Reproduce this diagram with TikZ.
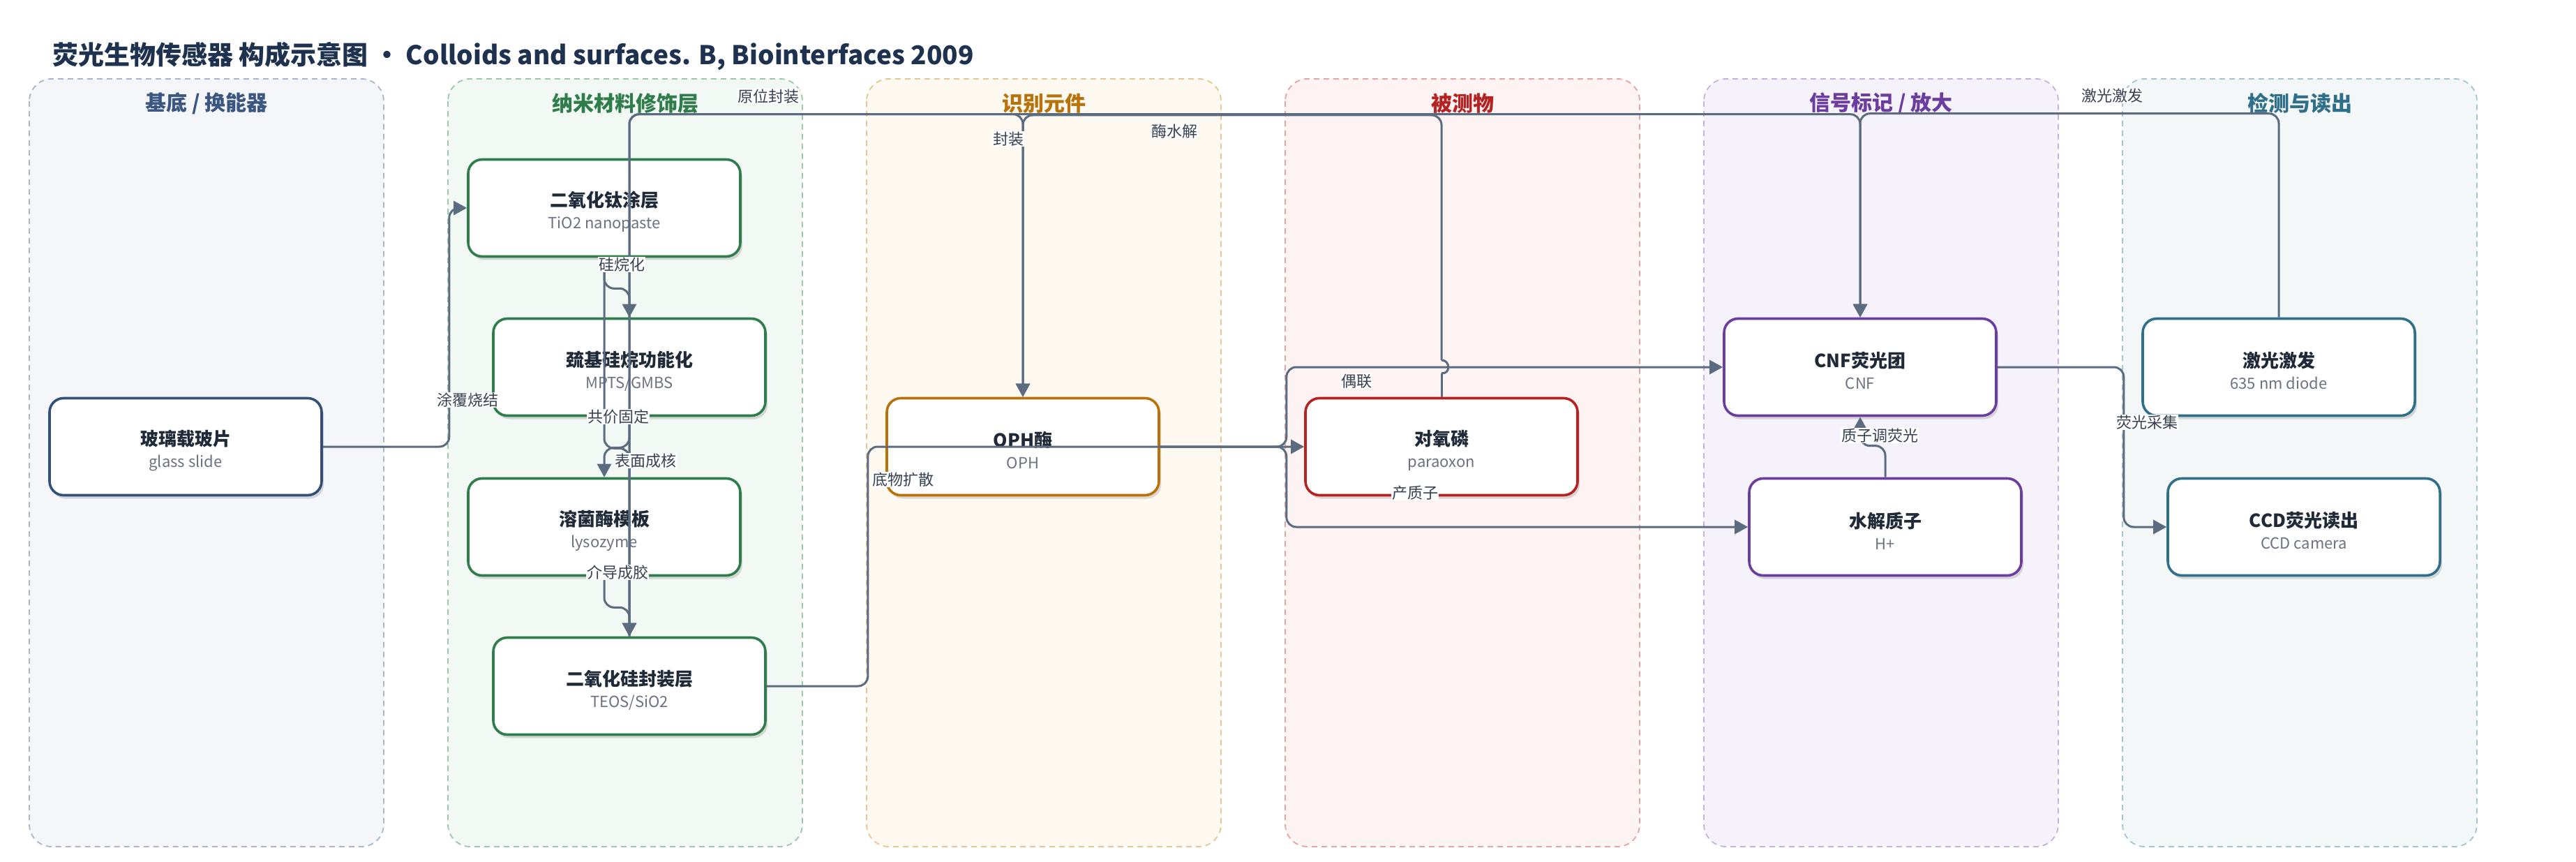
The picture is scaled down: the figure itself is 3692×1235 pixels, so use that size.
\documentclass[tikz,border=0pt]{standalone}
\usepackage{fontspec}
\setmainfont{Noto Sans CJK SC}
\usetikzlibrary{positioning,arrows.meta,shadows}

\definecolor{ink}{HTML}{1F2937}
\definecolor{subc}{HTML}{6B7280}
\definecolor{titlec}{HTML}{1E3250}
\definecolor{wire}{HTML}{5B6B80}
\definecolor{lbc}{HTML}{374151}
\definecolor{bgA}{HTML}{F4F6FA}\definecolor{bdA}{HTML}{A9B5CA}\definecolor{tA}{HTML}{3B5680}
\definecolor{bgB}{HTML}{F2F8F4}\definecolor{bdB}{HTML}{9CC8AA}\definecolor{tB}{HTML}{2E7D4A}
\definecolor{bgC}{HTML}{FDF8F0}\definecolor{bdC}{HTML}{E8C690}\definecolor{tC}{HTML}{B8720A}
\definecolor{bgD}{HTML}{FDF3F3}\definecolor{bdD}{HTML}{E6A3A3}\definecolor{tD}{HTML}{B52222}
\definecolor{bgE}{HTML}{F6F2FB}\definecolor{bdE}{HTML}{C6B0E0}\definecolor{tE}{HTML}{6A3D9E}
\definecolor{bgF}{HTML}{F3F7F8}\definecolor{bdF}{HTML}{A6C4D0}\definecolor{tF}{HTML}{2F6F8A}
\definecolor{nA}{HTML}{34507A}

\tikzset{
  lane/.style={draw=#1, dash pattern=on 4pt off 3pt, line width=0.9pt, rounded corners=16pt},
  lanetitle/.style={font=\bfseries\fontsize{15}{18}\selectfont, text=#1},
  box/.style={draw=#1, fill=white, line width=1.8pt, rounded corners=10pt,
    minimum width=195pt, minimum height=69.5pt, align=center, inner sep=0pt,
    font=\fontsize{13}{15.5}\selectfont, text=ink,
    drop shadow={shadow xshift=1.5pt, shadow yshift=-2.5pt, opacity=0.13, fill=black}},
  conn/.style={draw=wire, line width=1.5pt, rounded corners=7pt},
  arr/.style={conn, -{Triangle[length=9.5pt,width=10pt]}},
  lbl/.style={fill=white, inner sep=0.6pt, text=lbc, font=\fontsize{11}{13}\selectfont},
}
\newcommand{\boxtext}[2]{\rule{0pt}{16.5pt}{\bfseries #1}\\{\fontsize{11}{15.5}\selectfont\color{subc}#2}}

\begin{document}
\begin{tikzpicture}[x=0.5pt, y=-0.5pt]
\useasboundingbox (0,0) rectangle (3692,1235);
\fill[white] (0,0) rectangle (3692,1235);

\node[anchor=west, inner sep=0pt, text=titlec, font=\bfseries\fontsize{18.5}{22}\selectfont] (title) at (75,81)
  {荧光生物传感器 构成示意图 · Colloids and surfaces. B, Biointerfaces 2009};

% lanes
\draw[lane=bdA, fill=bgA] (42,113) rectangle ++(508,1100);
\draw[lane=bdB, fill=bgB] (642,113) rectangle ++(508,1100);
\draw[lane=bdC, fill=bgC] (1242,113) rectangle ++(508,1100);
\draw[lane=bdD, fill=bgD] (1842,113) rectangle ++(508,1100);
\draw[lane=bdE, fill=bgE] (2442,113) rectangle ++(508,1100);
\draw[lane=bdF, fill=bgF] (3042,113) rectangle ++(508,1100);
\node[lanetitle=tA] (laneA) at (296,148) {基底 / 换能器};
\node[lanetitle=tB] (laneB) at (896,148) {纳米材料修饰层};
\node[lanetitle=tC] (laneC) at (1496,148) {识别元件};
\node[lanetitle=tD] (laneD) at (2096,148) {被测物};
\node[lanetitle=tE] (laneE) at (2696,148) {信号标记 / 放大};
\node[lanetitle=tF] (laneF) at (3296,148) {检测与读出};

% nodes
\node[box=nA] (glass) at (266,640) {\boxtext{玻璃载玻片}{glass slide}};
\node[box=tB] (tio2) at (866,298) {\boxtext{二氧化钛涂层}{TiO2 nanopaste}};
\node[box=tB] (mpts) at (902,526) {\boxtext{巯基硅烷功能化}{MPTS/GMBS}};
\node[box=tB] (lyso) at (866,755) {\boxtext{溶菌酶模板}{lysozyme}};
\node[box=tB] (teos) at (902,983) {\boxtext{二氧化硅封装层}{TEOS/SiO2}};
\node[box=tC] (oph) at (1466,640) {\boxtext{OPH酶}{OPH}};
\node[box=tD] (para) at (2066,640) {\boxtext{对氧磷}{paraoxon}};
\node[box=tE] (cnf) at (2666,526) {\boxtext{CNF荧光团}{CNF}};
\node[box=tE] (hplus) at (2702,755) {\boxtext{水解质子}{H+}};
\node[box=tF] (laser) at (3266,526) {\boxtext{激光激发}{635 nm diode}};
\node[box=tF] (ccd) at (3302,755) {\boxtext{CCD荧光读出}{CCD camera}};

% connectors
\draw[arr] (glass.east) -- ++(181,0) |- (tio2.west);
\draw[arr] (tio2.south) -- ++(0,44) -| (mpts.north);
\draw[arr] (tio2.south) -- ++(0,273) -| (teos.north);
\draw[arr] (mpts.south) -- ++(0,44) -| (lyso.north);
\draw[arr] (lyso.south) -- ++(0,44) -| (teos.north);
\draw[arr] (teos.north) -- ++(0,-748) -| (oph.north);
\draw[arr] (teos.north) -- ++(0,-748) -| (cnf.north);
\draw[conn] (para.north) -- ++(0,-34) coordinate (hopA);
\draw[conn] (hopA) .. controls (2079,536.5) and (2079,516) .. (2066,516) coordinate (hopB);
\draw[arr] (hopB) -- ++(0,-351) -| (oph.north);
\draw[arr] (teos.east) -- ++(145,0) |- (para.west);
\draw[arr] (oph.east) -- ++(181,0) |- (cnf.west);
\draw[arr] (oph.east) -- ++(181,0) |- (hplus.west);
\draw[arr] (hplus.north) -- ++(0,-45) -| (cnf.south);
\draw[arr] (cnf.east) -- ++(181,0) |- (ccd.west);
\draw[arr] (laser.north) -- ++(0,-292) -| (cnf.north);

% labels
\node[lbl] (lbCoat) at (670,573) {涂覆烧结};
\node[lbl] (lbSil) at (891,379) {硅烷化};
\node[lbl] (lbFix) at (886,597) {共价固定};
\node[lbl] (lbNuc) at (925,660) {表面成核};
\node[lbl] (lbGel) at (885,820) {介导成胶};
\node[lbl] (lbInsitu) at (1101,138) {原位封装};
\node[lbl] (lbEnc) at (1445,199) {封装};
\node[lbl] (lbHyd) at (1683,188) {酶水解};
\node[lbl] (lbDiff) at (1294,687) {底物扩散};
\node[lbl] (lbCpl) at (1944,546) {偶联};
\node[lbl] (lbProt) at (2028,706) {产质子};
\node[lbl] (lbMod) at (2694,624) {质子调荧光};
\node[lbl] (lbColl) at (3077,605) {荧光采集};
\node[lbl] (lbExc) at (3027,137) {激光激发};
\end{tikzpicture}
\end{document}
